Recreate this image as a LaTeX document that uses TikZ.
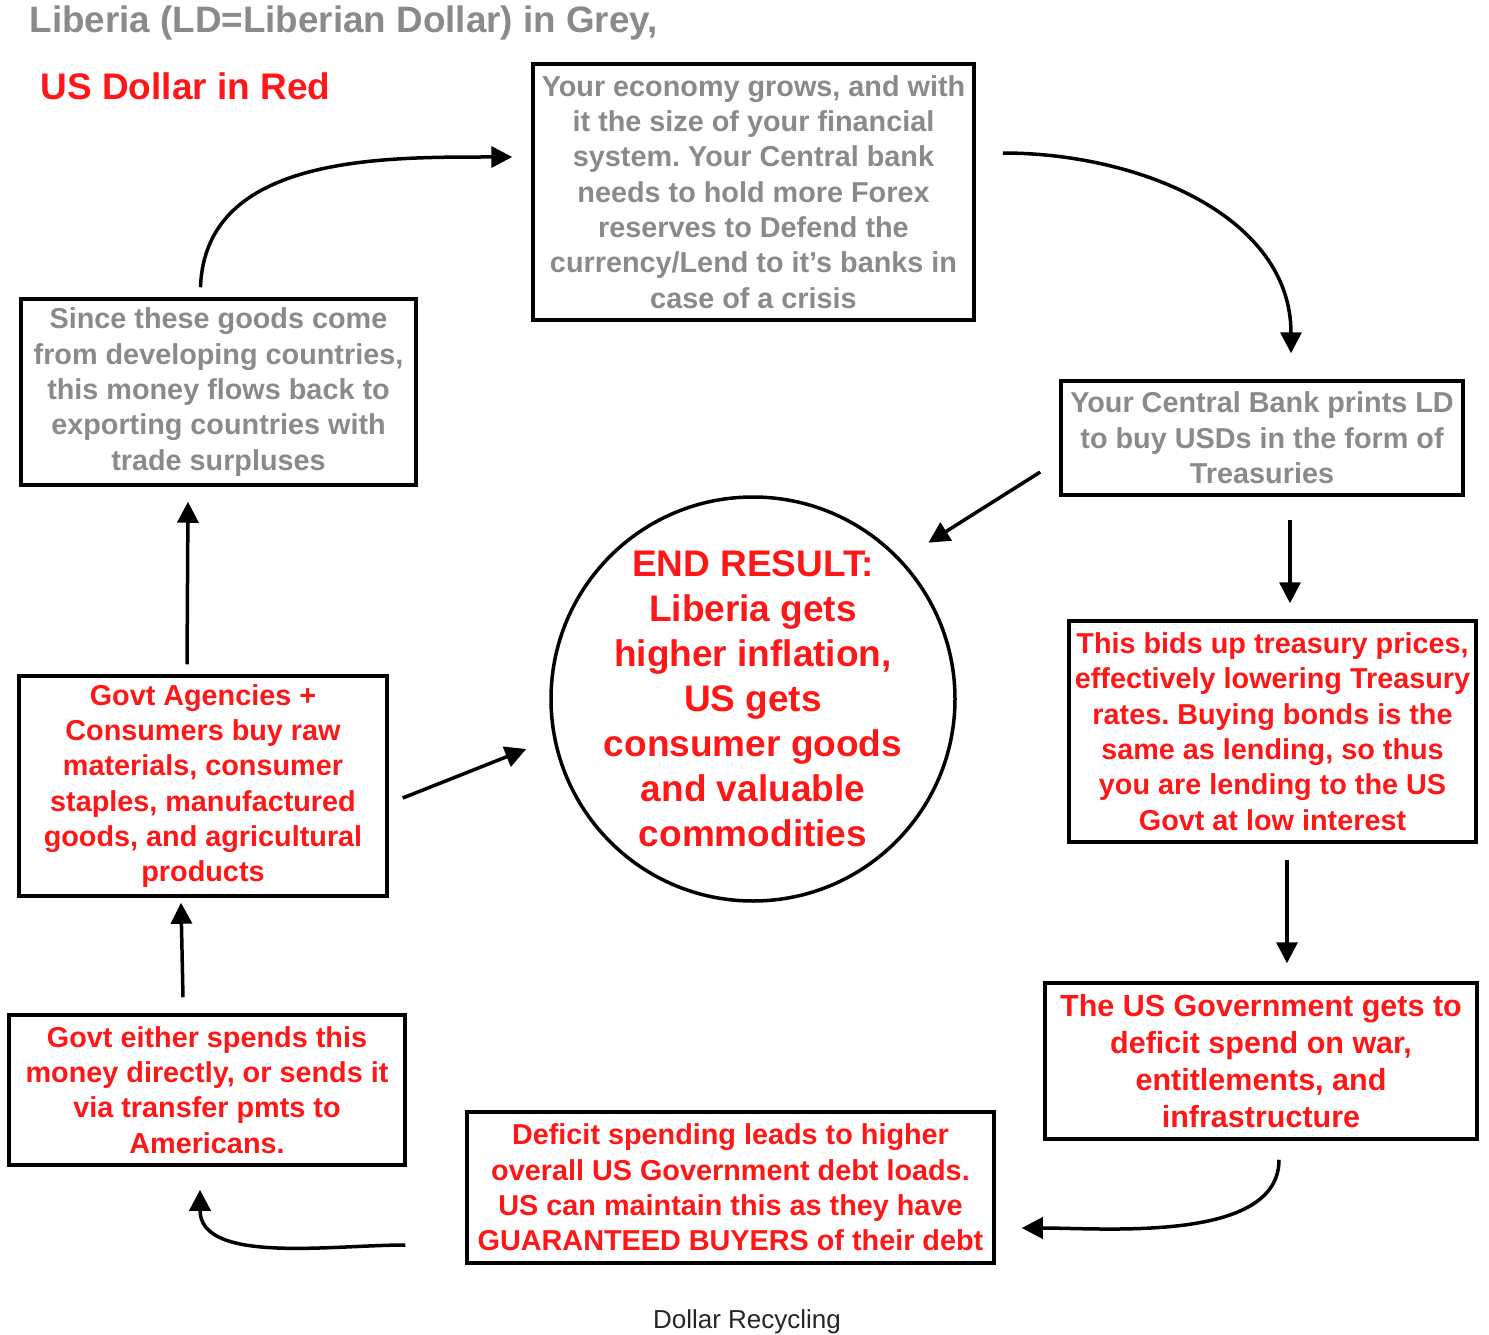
\documentclass[tikz,border=0pt]{standalone}
\usepackage{fontspec}
\setmainfont{Liberation Sans}
\usetikzlibrary{arrows.meta}
\definecolor{ldgrey}{RGB}{138,138,138}
\definecolor{usred}{RGB}{255,22,22}
\tikzset{box/.style={draw, line width=3.5pt, align=center, inner sep=0pt, font=\bfseries\fontsize{28.8}{35.3}\selectfont}}
\tikzset{flow/.style={line width=3.5pt, -{Triangle[length=21pt,width=21pt]}}}
\frenchspacing
\begin{document}
\begin{tikzpicture}[x=1pt,y=-1pt]
\useasboundingbox (0,0) rectangle (1489,1335);

\node[anchor=west, text=ldgrey, font=\bfseries\fontsize{36.8}{40}\selectfont] (title) at (26,23) {Liberia (LD=Liberian Dollar) in Grey,};
\node[anchor=west, text=usred, font=\bfseries\fontsize{37}{40}\selectfont] (legend) at (37,86) {US Dollar in Red};

\node[box, text=ldgrey, minimum width=441, minimum height=256] (econ) at (753.5,192)
  {Your economy grows, and with\\it the size of your financial\\system. Your Central bank\\needs to hold more Forex\\reserves to Defend the\\currency/Lend to it's banks in\\case of a crisis};
\node[box, text=ldgrey, minimum width=402, minimum height=114] (cb) at (1262,438)
  {Your Central Bank prints LD\\to buy USDs in the form of\\Treasuries};
\node[box, text=usred, minimum width=407, minimum height=221] (treas) at (1272.5,731.5)
  {This bids up treasury prices,\\effectively lowering Treasury\\rates. Buying bonds is the\\same as lending, so thus\\you are lending to the US\\Govt at low interest};
\node[box, text=usred, minimum width=432, minimum height=156, font=\bfseries\fontsize{30.5}{37}\selectfont] (usgov) at (1261,1061)
  {The US Government gets to\\deficit spend on war,\\entitlements, and\\infrastructure};
\node[box, text=usred, minimum width=527, minimum height=151] (deficit) at (730.5,1187.5)
  {Deficit spending leads to higher\\overall US Government debt loads.\\US can maintain this as they have\\GUARANTEED BUYERS of their debt};
\node[box, text=usred, minimum width=396, minimum height=150] (either) at (207,1090)
  {Govt either spends this\\money directly, or sends it\\via transfer pmts to\\Americans.};
\node[box, text=usred, minimum width=368, minimum height=220] (agencies) at (203,786)
  {Govt Agencies +\\Consumers buy raw\\materials, consumer\\staples, manufactured\\goods, and agricultural\\products};
\node[box, text=ldgrey, minimum width=395, minimum height=186] (since) at (218.5,392)
  {Since these goods come\\from developing countries,\\this money flows back to\\exporting countries with\\trade surpluses};
\node[box, circle, text=usred, minimum size=404, inner sep=-20pt, font=\bfseries\fontsize{37}{45}\selectfont] (res) at (753,699)
  {END RESULT:\\Liberia gets\\higher inflation,\\US gets\\consumer goods\\and valuable\\commodities};

\node[text=black!85, font=\fontsize{26}{30}\selectfont] (caption) at (747,1322) {Dollar Recycling};

\draw[flow] ([xshift=-18pt,yshift=10pt]since.north) to[out=88,in=180] ([xshift=-19pt,yshift=35pt]econ.west);
\draw[flow] ([xshift=27pt,yshift=39pt]econ.east) to[out=0,in=90] ([xshift=29pt,yshift=26pt]cb.north);
\draw[flow] ([xshift=-19pt,yshift=-34pt]cb.west) -- ([xshift=24pt,yshift=20pt]res.42);
\draw[flow] ([xshift=28pt,yshift=-23pt]cb.south) -- ([xshift=17.5pt,yshift=16pt]treas.north);
\draw[flow] ([xshift=14.5pt,yshift=-16pt]treas.south) -- ([xshift=26pt,yshift=18pt]usgov.north);
\draw[flow] ([xshift=18pt,yshift=-19pt]usgov.south) to[out=-90,in=0,looseness=0.8] ([xshift=26pt,yshift=-40.5pt]deficit.east);
\draw[flow] ([xshift=-60pt,yshift=-57.5pt]deficit.west) to[out=180,in=-90,looseness=0.9] ([xshift=-7pt,yshift=-23pt]either.south);
\draw[flow] ([xshift=-24pt,yshift=16pt]either.north) -- ([xshift=-22pt,yshift=-5pt]agencies.south);
\draw[flow] ([xshift=-16pt,yshift=10pt]agencies.north) -- ([xshift=-30.5pt,yshift=-15pt]since.south);
\draw[flow] ([xshift=14pt,yshift=-12pt]agencies.east) -- ([xshift=-23pt,yshift=-50pt]res.west);
\end{tikzpicture}
\end{document}
